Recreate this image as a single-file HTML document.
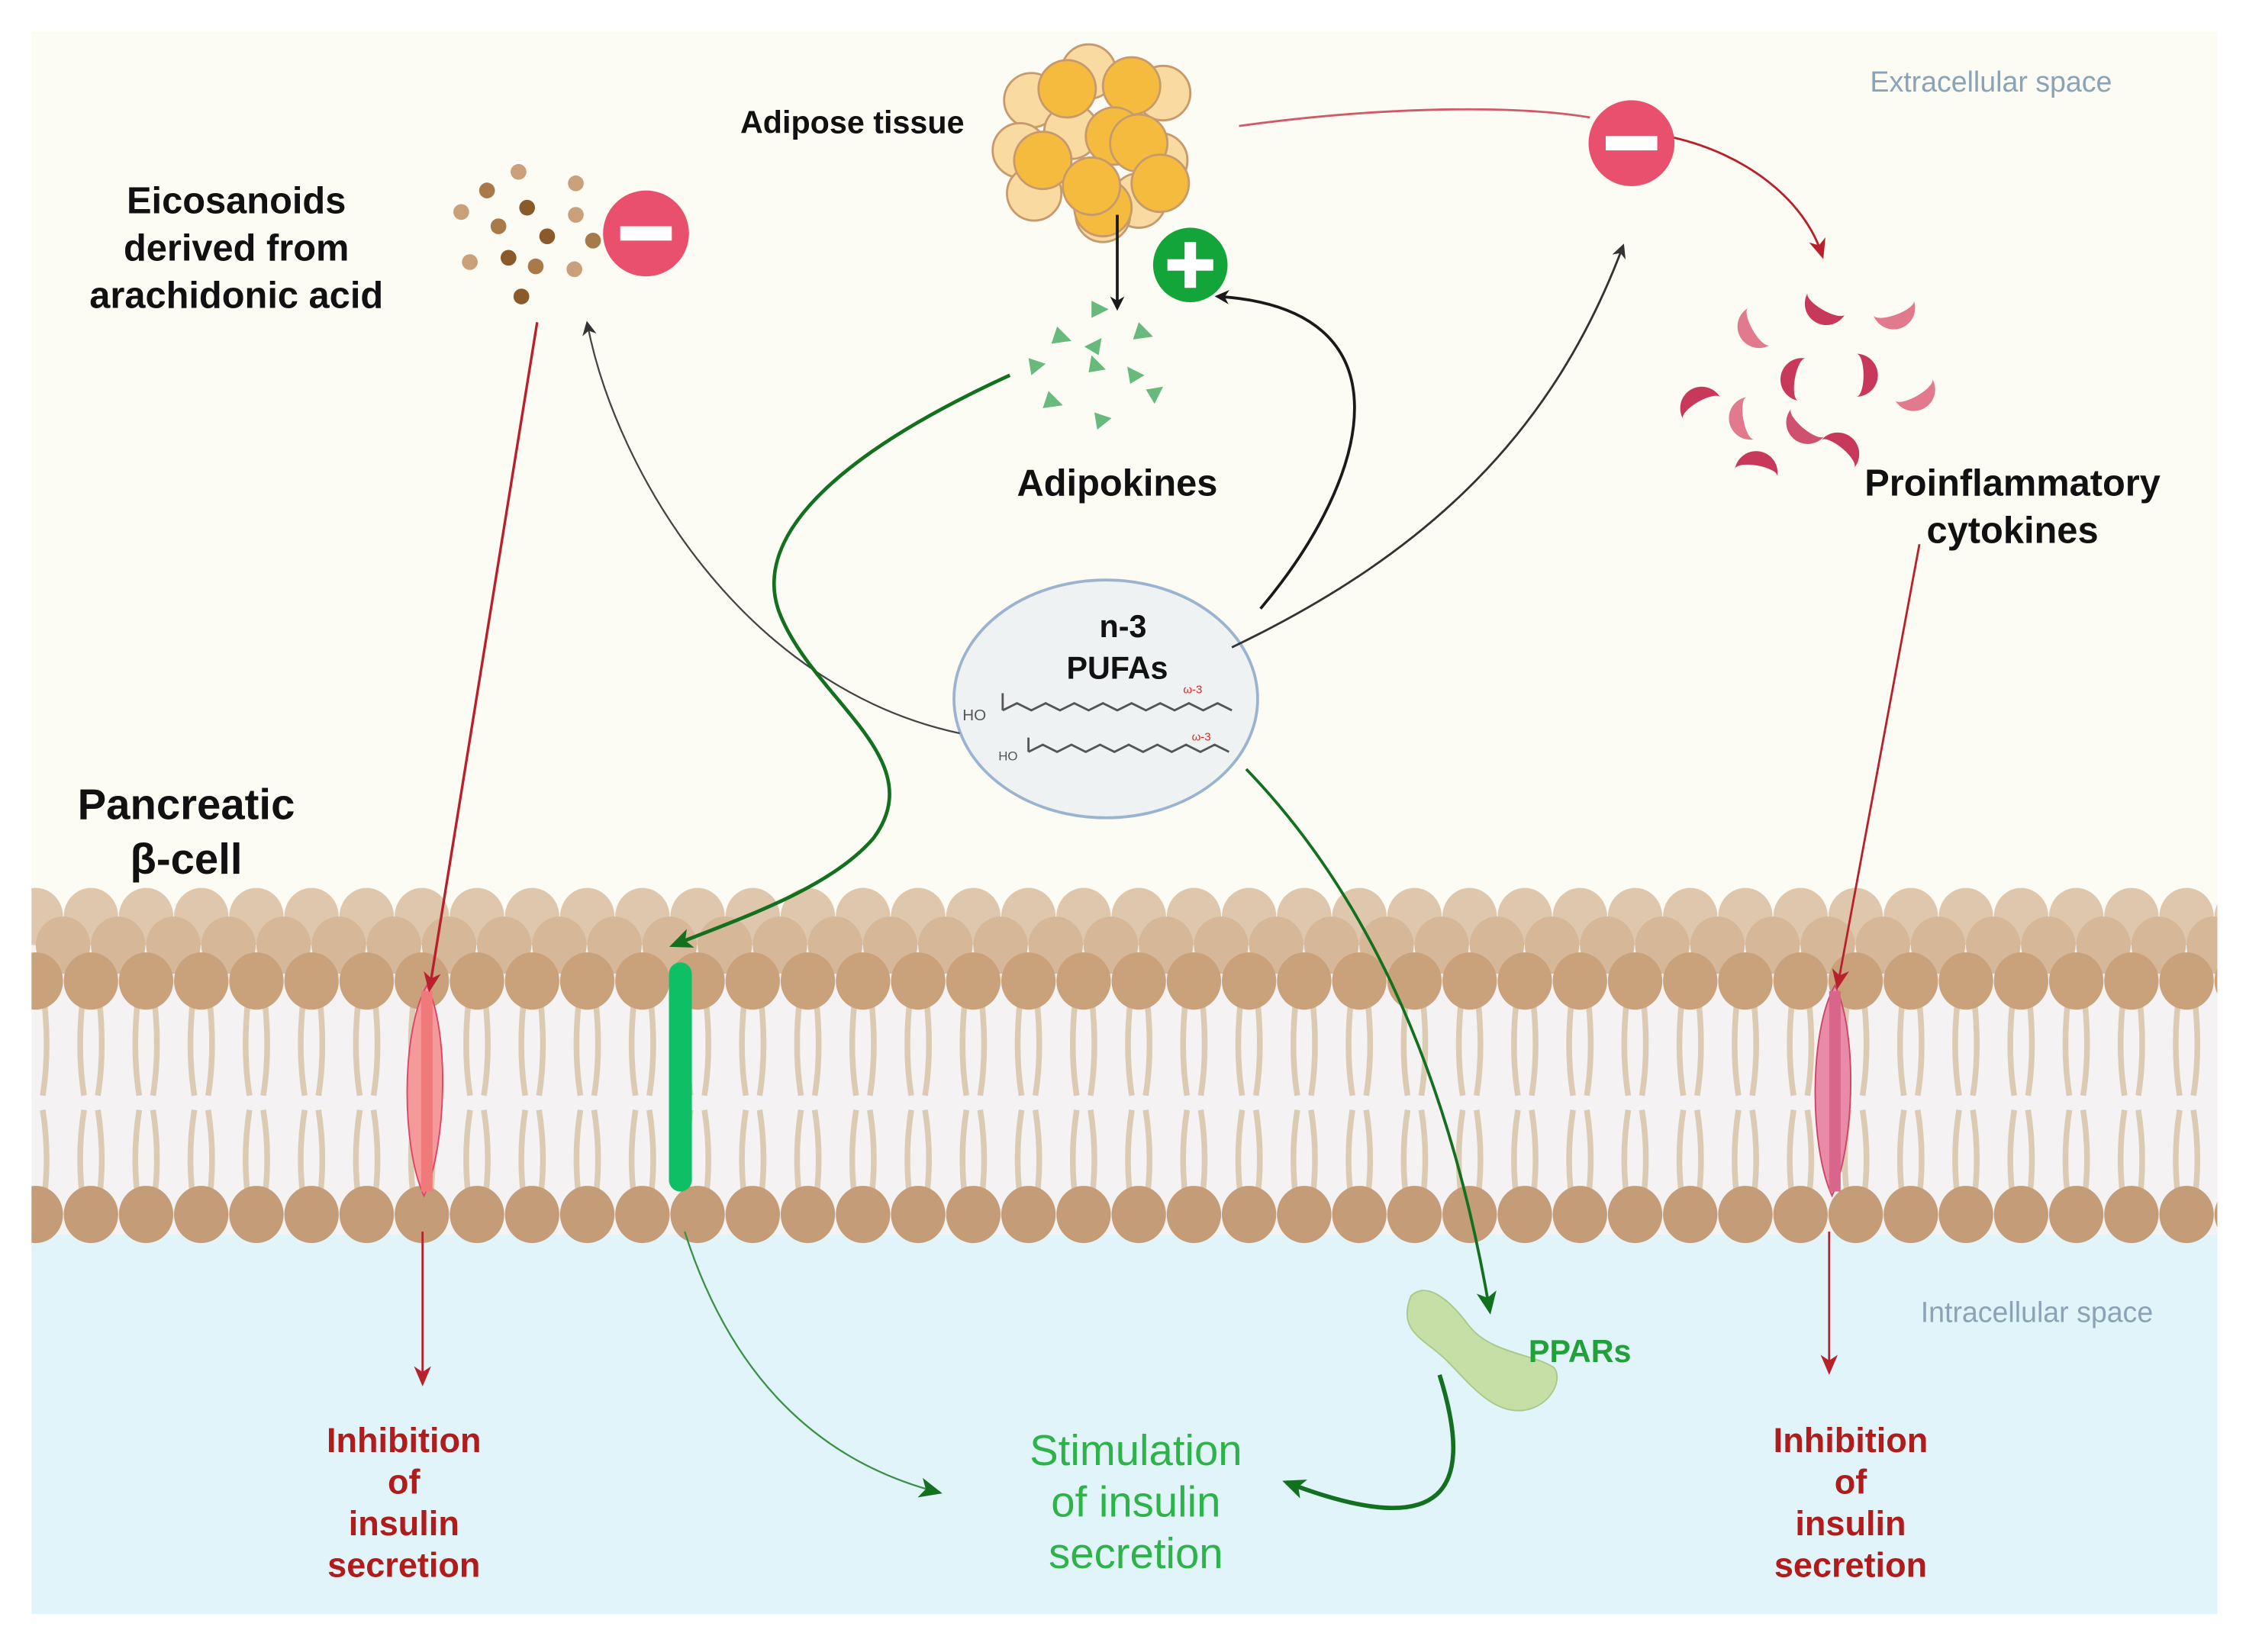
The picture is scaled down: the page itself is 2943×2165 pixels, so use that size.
<!DOCTYPE html>
<html><head><meta charset="utf-8"><style>
html,body{margin:0;padding:0;background:#fff;}
svg{display:block;}
text{font-family:"Liberation Sans",sans-serif;}
</style></head><body>
<svg id="s" width="2943" height="2165" viewBox="0 0 1568 1153.5" preserveAspectRatio="none" xmlns="http://www.w3.org/2000/svg">
<defs>
<marker id="ak" markerWidth="10" markerHeight="10" refX="8" refY="5" orient="auto" markerUnits="userSpaceOnUse" viewBox="0 0 10 10"><path d="M0,0 L10,5 L0,10 L3,5z" fill="#1a1a1a"/></marker>
<marker id="ar" markerWidth="14" markerHeight="14" refX="11" refY="7" orient="auto" markerUnits="userSpaceOnUse" viewBox="0 0 14 14"><path d="M0,1 L14,7 L0,13 L4,7z" fill="#b8202c"/></marker>
<marker id="ag" markerWidth="16" markerHeight="16" refX="13" refY="8" orient="auto" markerUnits="userSpaceOnUse" viewBox="0 0 16 16"><path d="M0,1 L16,8 L0,15 L4,8z" fill="#12701e"/></marker>
<marker id="agr" markerWidth="10" markerHeight="10" refX="8" refY="5" orient="auto" markerUnits="userSpaceOnUse" viewBox="0 0 10 10"><path d="M0,0 L10,5 L0,10 L3,5z" fill="#333"/></marker>
</defs>
<rect x="0" y="0" width="1568" height="1154" fill="#fff"/>
<rect x="22" y="22" width="1526" height="620" fill="#fcfbf4"/>
<rect x="22" y="640" width="1526" height="230" fill="#f4f2f2"/>
<rect x="22" y="862" width="1526" height="265" fill="#e0f4fa"/>
<g id="mem"></g>
<text x="1390" y="64" font-size="20" fill="#8aa3b5" text-anchor="middle">Extracellular space</text>
<text x="1422" y="923" font-size="20" fill="#8aa3b5" text-anchor="middle">Intracellular space</text>
<g id="fat" stroke="#c79a6e" stroke-width="1.5"></g>
<text x="595" y="93" font-size="22" font-weight="bold" text-anchor="middle" fill="#111">Adipose tissue</text>
<g font-size="26" font-weight="bold" text-anchor="middle" fill="#111">
<text x="165" y="149">Eicosanoids</text><text x="165" y="182">derived from</text><text x="165" y="215">arachidonic acid</text>
<text x="780" y="346">Adipokines</text>
<text x="1405" y="346">Proinflammatory</text><text x="1405" y="379">cytokines</text>
</g>
<g font-size="30" font-weight="bold" text-anchor="middle" fill="#111"><text x="130" y="572">Pancreatic</text><text x="130" y="610">β-cell</text></g>
<g id="dots"></g>
<g fill="#4fae68" opacity="0.85">
<path d="M738,228 l10,10 l-14,2z"/><path d="M762,210 l12,6 l-12,6z"/><path d="M795,225 l10,10 l-14,2z"/>
<path d="M718,250 l12,4 l-10,8z"/><path d="M757,242 l12,-6 l-2,12z"/><path d="M762,248 l10,10 l-12,2z"/>
<path d="M787,256 l12,6 l-10,6z"/><path d="M732,273 l10,10 l-14,2z"/><path d="M800,272 l12,-2 l-6,12z"/><path d="M764,288 l12,4 l-10,8z"/>
</g>
<g id="cyto"></g>
<ellipse cx="772" cy="488" rx="106" ry="83" fill="#eef2f3" stroke="#9ab3d1" stroke-width="2"/>
<g font-size="22" font-weight="bold" text-anchor="middle" fill="#111"><text x="784" y="445">n-3</text><text x="780" y="474">PUFAs</text></g>
<g fill="none" stroke="#555" stroke-width="1.5">
<path d="M700,496 l10,-5 l10,5 l10,-5 l10,5 l10,-5 l10,5 l10,-5 l10,5 l10,-5 l10,5 l10,-5 l10,5 l10,-5 l10,5 l10,-5 l10,5"/>
<path d="M718,525 l10,-5 l10,5 l10,-5 l10,5 l10,-5 l10,5 l10,-5 l10,5 l10,-5 l10,5 l10,-5 l10,5 l10,-5 l10,5"/>
<path d="M700,496 v-12"/><path d="M718,525 v-10"/>
</g>
<g font-size="11" fill="#555"><text x="672" y="503">HO</text><text x="697" y="531" font-size="9">HO</text></g>
<g font-size="8" fill="#e22"><text x="826" y="484">ω-3</text><text x="832" y="517">ω-3</text></g>
<g fill="none">
<path d="M780,150 L780,215" stroke="#1a1a1a" stroke-width="2" marker-end="url(#ak)"/>
<path d="M880,425 C960,330 985,215 850,207" stroke="#1a1a1a" stroke-width="2" marker-end="url(#ak)"/>
<path d="M860,452 C1000,385 1085,300 1133,172" stroke="#333" stroke-width="1.5" marker-end="url(#agr)"/>
<path d="M670,512 C520,480 430,330 410,226" stroke="#444" stroke-width="1.2" marker-end="url(#agr)"/>
<path d="M865,88 C950,76 1050,72 1110,82" stroke="#d05a6a" stroke-width="1.5"/>
<path d="M1168,96 C1220,108 1260,140 1272,178" stroke="#b8202c" stroke-width="1.5" marker-end="url(#ar)"/>
<path d="M375,225 L300,690" stroke="#b8202c" stroke-width="1.8" marker-end="url(#ar)"/>
<path d="M1340,380 L1283,688" stroke="#b8202c" stroke-width="1.5" marker-end="url(#ar)"/>
<path d="M705,262 C600,310 520,370 545,430 C570,490 650,530 610,585 C580,620 520,640 470,660" stroke="#12701e" stroke-width="2.5" marker-end="url(#ag)"/>
<path d="M870,537 C950,620 1010,740 1040,915" stroke="#12701e" stroke-width="2" marker-end="url(#ag)"/>
<path d="M295,860 L295,965" stroke="#b8202c" stroke-width="1.5" marker-end="url(#ar)"/>
<path d="M1277,860 L1277,957" stroke="#b8202c" stroke-width="1.5" marker-end="url(#ar)"/>
<path d="M478,860 C510,960 570,1020 655,1042" stroke="#3a8f45" stroke-width="1.2" marker-end="url(#ag)"/>
<path d="M1005,960 C1030,1040 1010,1078 898,1035" stroke="#12701e" stroke-width="3" marker-end="url(#ag)"/>
</g>
<circle cx="451" cy="163" r="30" fill="#e8506e"/><rect x="433" y="158" width="36" height="10" fill="#fff"/>
<circle cx="1139" cy="100" r="30" fill="#e8506e"/><rect x="1121" y="95" width="36" height="10" fill="#fff"/>
<circle cx="831" cy="185" r="26" fill="#13a43a"/><rect x="815" y="181" width="32" height="8" fill="#fff"/><rect x="827" y="169" width="8" height="32" fill="#fff"/>
<path d="M985,905 C995,895 1010,905 1025,925 C1040,945 1070,945 1085,955 C1092,965 1080,985 1060,985 C1040,985 1025,965 1010,950 C995,935 975,930 985,905z" fill="#c5dfa6" stroke="#a9c98a"/>
<text x="1103" y="951" font-size="22" font-weight="bold" text-anchor="middle" fill="#22a03a">PPARs</text>
<g font-size="30" text-anchor="middle" fill="#2db34a"><text x="793" y="1023">Stimulation</text><text x="793" y="1059">of insulin</text><text x="793" y="1095">secretion</text></g>
<g font-size="24" font-weight="bold" text-anchor="middle" fill="#b01c1c">
<text x="282" y="1014">Inhibition</text><text x="282" y="1043">of</text><text x="282" y="1072">insulin</text><text x="282" y="1101">secretion</text>
<text x="1292" y="1014">Inhibition</text><text x="1292" y="1043">of</text><text x="1292" y="1072">insulin</text><text x="1292" y="1101">secretion</text>
</g>
</svg>
<script>
var NS="http://www.w3.org/2000/svg";
function el(p,t,a){var e=document.createElementNS(NS,t);for(var k in a)e.setAttribute(k,a[k]);p.appendChild(e);return e;}
var m=document.getElementById("mem");
var cp=el(m,"clipPath",{id:"cl"});el(cp,"rect",{x:22,y:600,width:1526,height:300});
var g=el(m,"g",{"clip-path":"url(#cl)"});
for(var x=25;x<1560;x+=38.5){
 [[-6,0],[6,0]].forEach(function(o){
  el(g,"path",{d:"M"+(x+o[0])+",700 Q"+(x+o[0]*1.6)+",735 "+(x+o[0]*0.8)+",765",stroke:"#dccbb3","stroke-width":4,fill:"none"});
  el(g,"path",{d:"M"+(x+o[0]*0.8)+",775 Q"+(x+o[0]*1.6)+",805 "+(x+o[0])+",835",stroke:"#dccbb3","stroke-width":4,fill:"none"});
 });
}
var rows=[[640,"#dfc7ad",0],[660,"#d6b797",19],[685,"#c9a27c",0],[848,"#c49d78",0]];
rows.forEach(function(r){for(var x=25+r[2];x<1570;x+=38.5){el(g,"ellipse",{cx:x,cy:r[0],rx:19,ry:20,fill:r[1]});}});
el(g,"path",{d:"M298,688 C280,720 280,800 296,835 C312,800 314,720 298,688z",fill:"#f59a9a",stroke:"#d46"});
el(g,"rect",{x:294,y:692,width:8,height:140,fill:"#f07a7a"});
el(g,"path",{d:"M1281,688 C1263,720 1263,800 1279,835 C1295,800 1297,720 1281,688z",fill:"#e98ba8",stroke:"#c46"});
el(g,"rect",{x:1277,y:692,width:8,height:140,fill:"#d8668a"});
el(g,"rect",{x:467,y:672,width:16,height:160,rx:8,fill:"#0fbf66"});
var f=document.getElementById("fat");
var light=[[720,70],[760,50],[812,65],[712,105],[748,92],[810,112],[722,135],[795,140],[770,150]];
var dark=[[745,62],[790,60],[728,112],[778,95],[795,100],[770,145],[810,128],[762,130]];
light.forEach(function(c){el(f,"circle",{cx:c[0],cy:c[1],r:19,fill:"#f9daa0"});});
dark.forEach(function(c){el(f,"circle",{cx:c[0],cy:c[1],r:20,fill:"#f5bb3e"});});
var d=document.getElementById("dots");
[[362,120,"#c9a07a"],[340,133,"#a87a4a"],[402,128,"#c9a07a"],[368,145,"#8a5a2a"],[322,148,"#c9a07a"],[348,158,"#a87a4a"],[382,165,"#8a5a2a"],[402,150,"#c9a07a"],[328,183,"#c9a07a"],[355,180,"#8a5a2a"],[374,186,"#a87a4a"],[401,188,"#c9a07a"],[364,207,"#8a5a2a"],[414,168,"#a87a4a"]].forEach(function(c){el(d,"circle",{cx:c[0],cy:c[1],r:5.5,fill:c[2]});});
var cy=document.getElementById("cyto");
[[1275,212,30,"#c8385a"],[1322,215,-20,"#e07a8c"],[1228,228,60,"#e07a8c"],[1258,265,100,"#c8385a"],[1296,262,-90,"#c8385a"],[1336,272,-30,"#e07a8c"],[1188,285,150,"#c8385a"],[1222,292,80,"#e07a8c"],[1262,295,40,"#d05070"],[1283,317,-140,"#c8385a"],[1226,330,190,"#c8385a"]].forEach(function(c){
 el(cy,"path",{d:"M-15,0 A15,15 0 0,0 15,0 A15,5 0 0,1 -15,0z",transform:"translate("+c[0]+","+c[1]+") rotate("+c[2]+")",fill:c[3]});
});
</script>
</body></html>
